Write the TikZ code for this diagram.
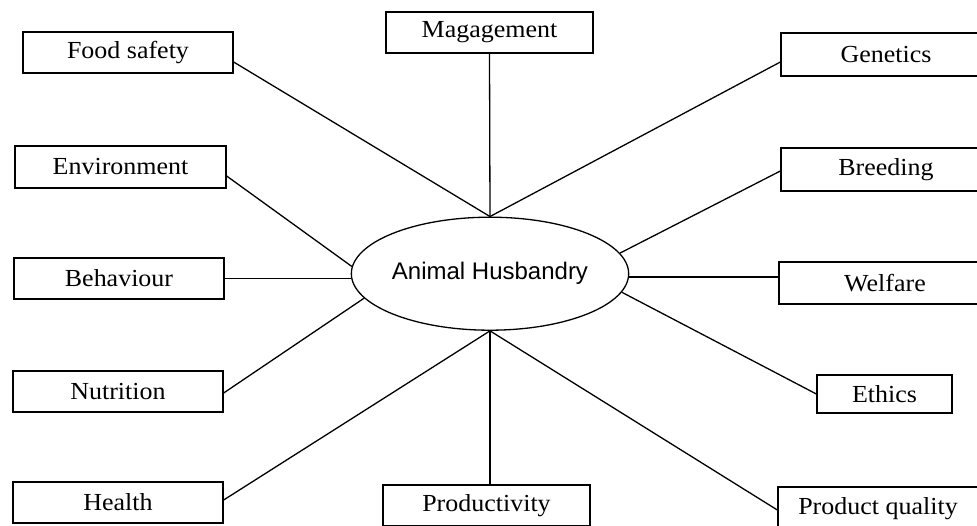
\documentclass[tikz,border=0pt]{standalone}
\usepackage{fontspec}
\setmainfont{Liberation Serif}
\newfontfamily\boxfont[FakeStretch=1.06]{Liberation Serif}
\newfontfamily\ellfont{Liberation Sans}
\usetikzlibrary{shapes.geometric}
\begin{document}
\begin{tikzpicture}[x=1pt,y=-1pt,
  box/.style={draw, line width=1.3pt, rectangle, inner sep=0pt,
    font=\boxfont\fontsize{24.5}{28}\selectfont},
  link/.style={line width=1.3pt}]
\useasboundingbox (0,0) rectangle (977,525);
% left column
\node[box, minimum width=210pt, minimum height=41pt] (food) at (128,52.5) {Food safety};
\node[box, minimum width=211pt, minimum height=42pt] (env) at (120.5,167) {Environment};
\node[box, minimum width=210pt, minimum height=41pt] (beh) at (119,278.5) {Behaviour};
\node[box, minimum width=210pt, minimum height=41pt] (nut) at (118,391.5) {Nutrition};
\node[box, minimum width=210pt, minimum height=41pt] (hea) at (118,502.5) {Health};
% middle column
\node[box, minimum width=207pt, minimum height=41pt] (mgmt) at (489.5,32.5) {Magagement};
\node[box, minimum width=207pt, minimum height=41pt] (prod) at (486.5,505.5) {Productivity};
% right column
\node[box, minimum width=210pt, minimum height=43pt] (gen) at (886,54.5) {Genetics};
\node[box, minimum width=210pt, minimum height=43pt] (bre) at (886,169.5) {Breeding};
\node[box, minimum width=212pt, minimum height=42pt] (wel) at (885,283) {Welfare};
\node[box, minimum width=135pt, minimum height=38pt] (eth) at (884.5,394) {Ethics};
\node[box, minimum width=200pt, minimum height=43pt] (pq) at (878,508.5) {Product quality};
% centre
\node[ellipse, draw, line width=1.3pt, minimum width=270pt, minimum height=113pt,
  inner sep=0pt, font=\ellfont\fontsize{24}{28}\selectfont] (ah) at (490,273.7) {Animal Husbandry};
% connectors
\draw[link] ([yshift=-9.5pt]food.east) -- (ah.north);
\draw[link] (mgmt.south) -- (ah.north);
\draw[link] ([yshift=-7.5pt]gen.west) -- (ah.north);
\draw[link] ([yshift=-9pt]env.east) -- (ah.177);
\draw[link] (beh.east) -- (beh.east -| ah.west);
\draw[link] ([yshift=-1.5pt]nut.east) -- (ah.191);
\draw[link] ([yshift=2.5pt]hea.east) -- (ah.south);
\draw[link] (ah.south) -- (ah.south |- prod.north);
\draw[link] ([yshift=-1.5pt]pq.west) -- (ah.south);
\draw[link] ([yshift=-1.5pt]bre.west) -- (ah.9);
\coordinate (w1) at ([yshift=6pt]wel.west);
\draw[link] (w1) -- (w1 -| ah.east);
\draw[link] (eth.west) -- (ah.-8);
\end{tikzpicture}
\end{document}
